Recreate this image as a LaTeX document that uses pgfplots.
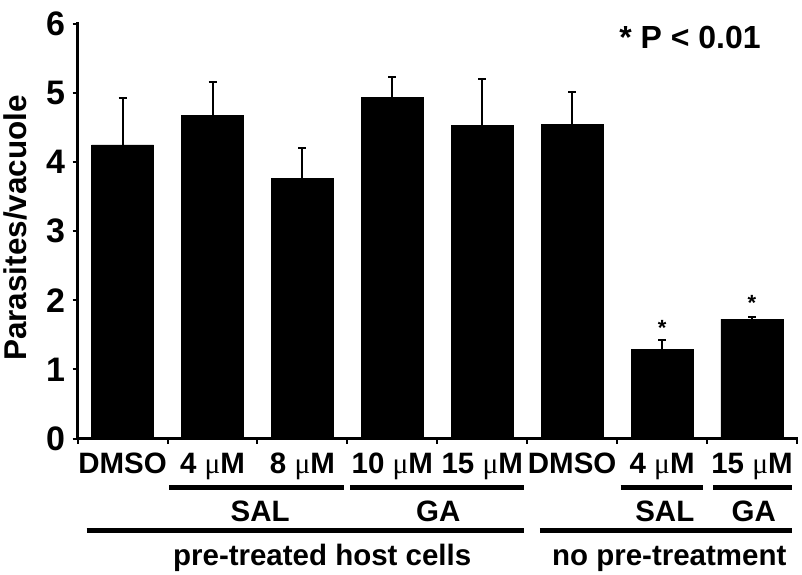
\documentclass[border=0pt]{standalone}
\usepackage{pgfplots}
\pgfplotsset{compat=1.18}
\usepackage{fontspec}
\setmainfont{Liberation Sans}
\newfontfamily\symfont{Liberation Serif}
\newcommand{\mum}{{\symfont\mdseries μ}M}
\newcommand{\catfont}{\fontsize{29.5}{33}\selectfont\bfseries}
\begin{document}
\begin{tikzpicture}
\begin{axis}[
  scale only axis, width=720pt, height=415pt,
  xmin=-0.5, xmax=7.5, ymin=0, ymax=6,
  axis x line*=bottom, axis y line*=left,
  axis line style={line width=3pt, line cap=rect},
  clip=false,
  ytick={0,1,2,3,4,5,6},
  tick align=outside,
  major tick length=5pt,
  major y tick style={line width=2pt, black},
  xtick={0,1,2,3,4,5,6,7},
  xticklabels={DMSO, 4 \mum, 8 \mum, 10 \mum, 15 \mum, DMSO, 4 \mum, 15 \mum},
  major x tick style={draw=none},
  minor xtick={-0.5,0.5,1.5,2.5,3.5,4.5,5.5,6.5,7.5},
  minor x tick style={line width=2pt, black},
  minor tick length=5pt,
  xticklabel style={font=\catfont, anchor=base, yshift=-30pt},
  yticklabel style={font=\fontsize{34}{38}\selectfont\bfseries, xshift=-4pt},
  /pgf/number format/assume math mode=true,
  ylabel={Parasites/vacuole},
  ylabel style={font=\fontsize{31.5}{35}\selectfont\bfseries, at={(axis description cs:-0.087,0.508)}, anchor=center},
]
\addplot[ybar, bar width=0.69, fill=black, draw=black,
  error bars/.cd, y dir=plus, y explicit,
  error bar style={line width=2pt, black},
  error mark options={rotate=90, line width=2pt, mark size=4pt, black}]
coordinates {
  (0,4.25) +- (0,0.68)
  (1,4.68) +- (0,0.48)
  (2,3.77) +- (0,0.44)
  (3,4.94) +- (0,0.29)
  (4,4.53) +- (0,0.67)
  (5,4.55) +- (0,0.46)
  (6,1.29) +- (0,0.13)
  (7,1.73) +- (0,0.03)
};
% invisible frame matching reference size
\path (axis cs:-1.356,6.347) rectangle (axis cs:7.556,-1.952);
% significance markers
\node[font=\fontsize{22}{24}\selectfont\bfseries] at (axis cs:6,1.60) {*};
\node[font=\fontsize{22}{24}\selectfont\bfseries] at (axis cs:7,1.96) {*};
\node[font=\fontsize{32}{36}\selectfont\bfseries] at (axis cs:6.31,5.81) {* P < 0.01};
% group lines
\draw[line width=5.5pt] (axis cs:0.52,-0.708) -- (axis cs:2.46,-0.708);
\draw[line width=5.5pt] (axis cs:2.53,-0.708) -- (axis cs:4.46,-0.708);
\draw[line width=5.5pt] (axis cs:5.54,-0.708) -- (axis cs:6.46,-0.708);
\draw[line width=5.5pt] (axis cs:6.57,-0.708) -- (axis cs:7.44,-0.708);
\node[font=\catfont, anchor=base] at (axis cs:1.53,-1.197) {SAL};
\node[font=\catfont, anchor=base] at (axis cs:3.51,-1.197) {GA};
\node[font=\catfont, anchor=base] at (axis cs:6.03,-1.197) {SAL};
\node[font=\catfont, anchor=base] at (axis cs:7.02,-1.197) {GA};
\draw[line width=5.5pt] (axis cs:-0.4,-1.33) -- (axis cs:4.46,-1.33);
\draw[line width=5.5pt] (axis cs:4.64,-1.33) -- (axis cs:7.44,-1.33);
\node[font=\catfont, anchor=base] at (axis cs:2.22,-1.836) {pre-treated host cells};
\node[font=\catfont, anchor=base] at (axis cs:6.08,-1.836) {no pre-treatment};
\end{axis}
\end{tikzpicture}
\end{document}
